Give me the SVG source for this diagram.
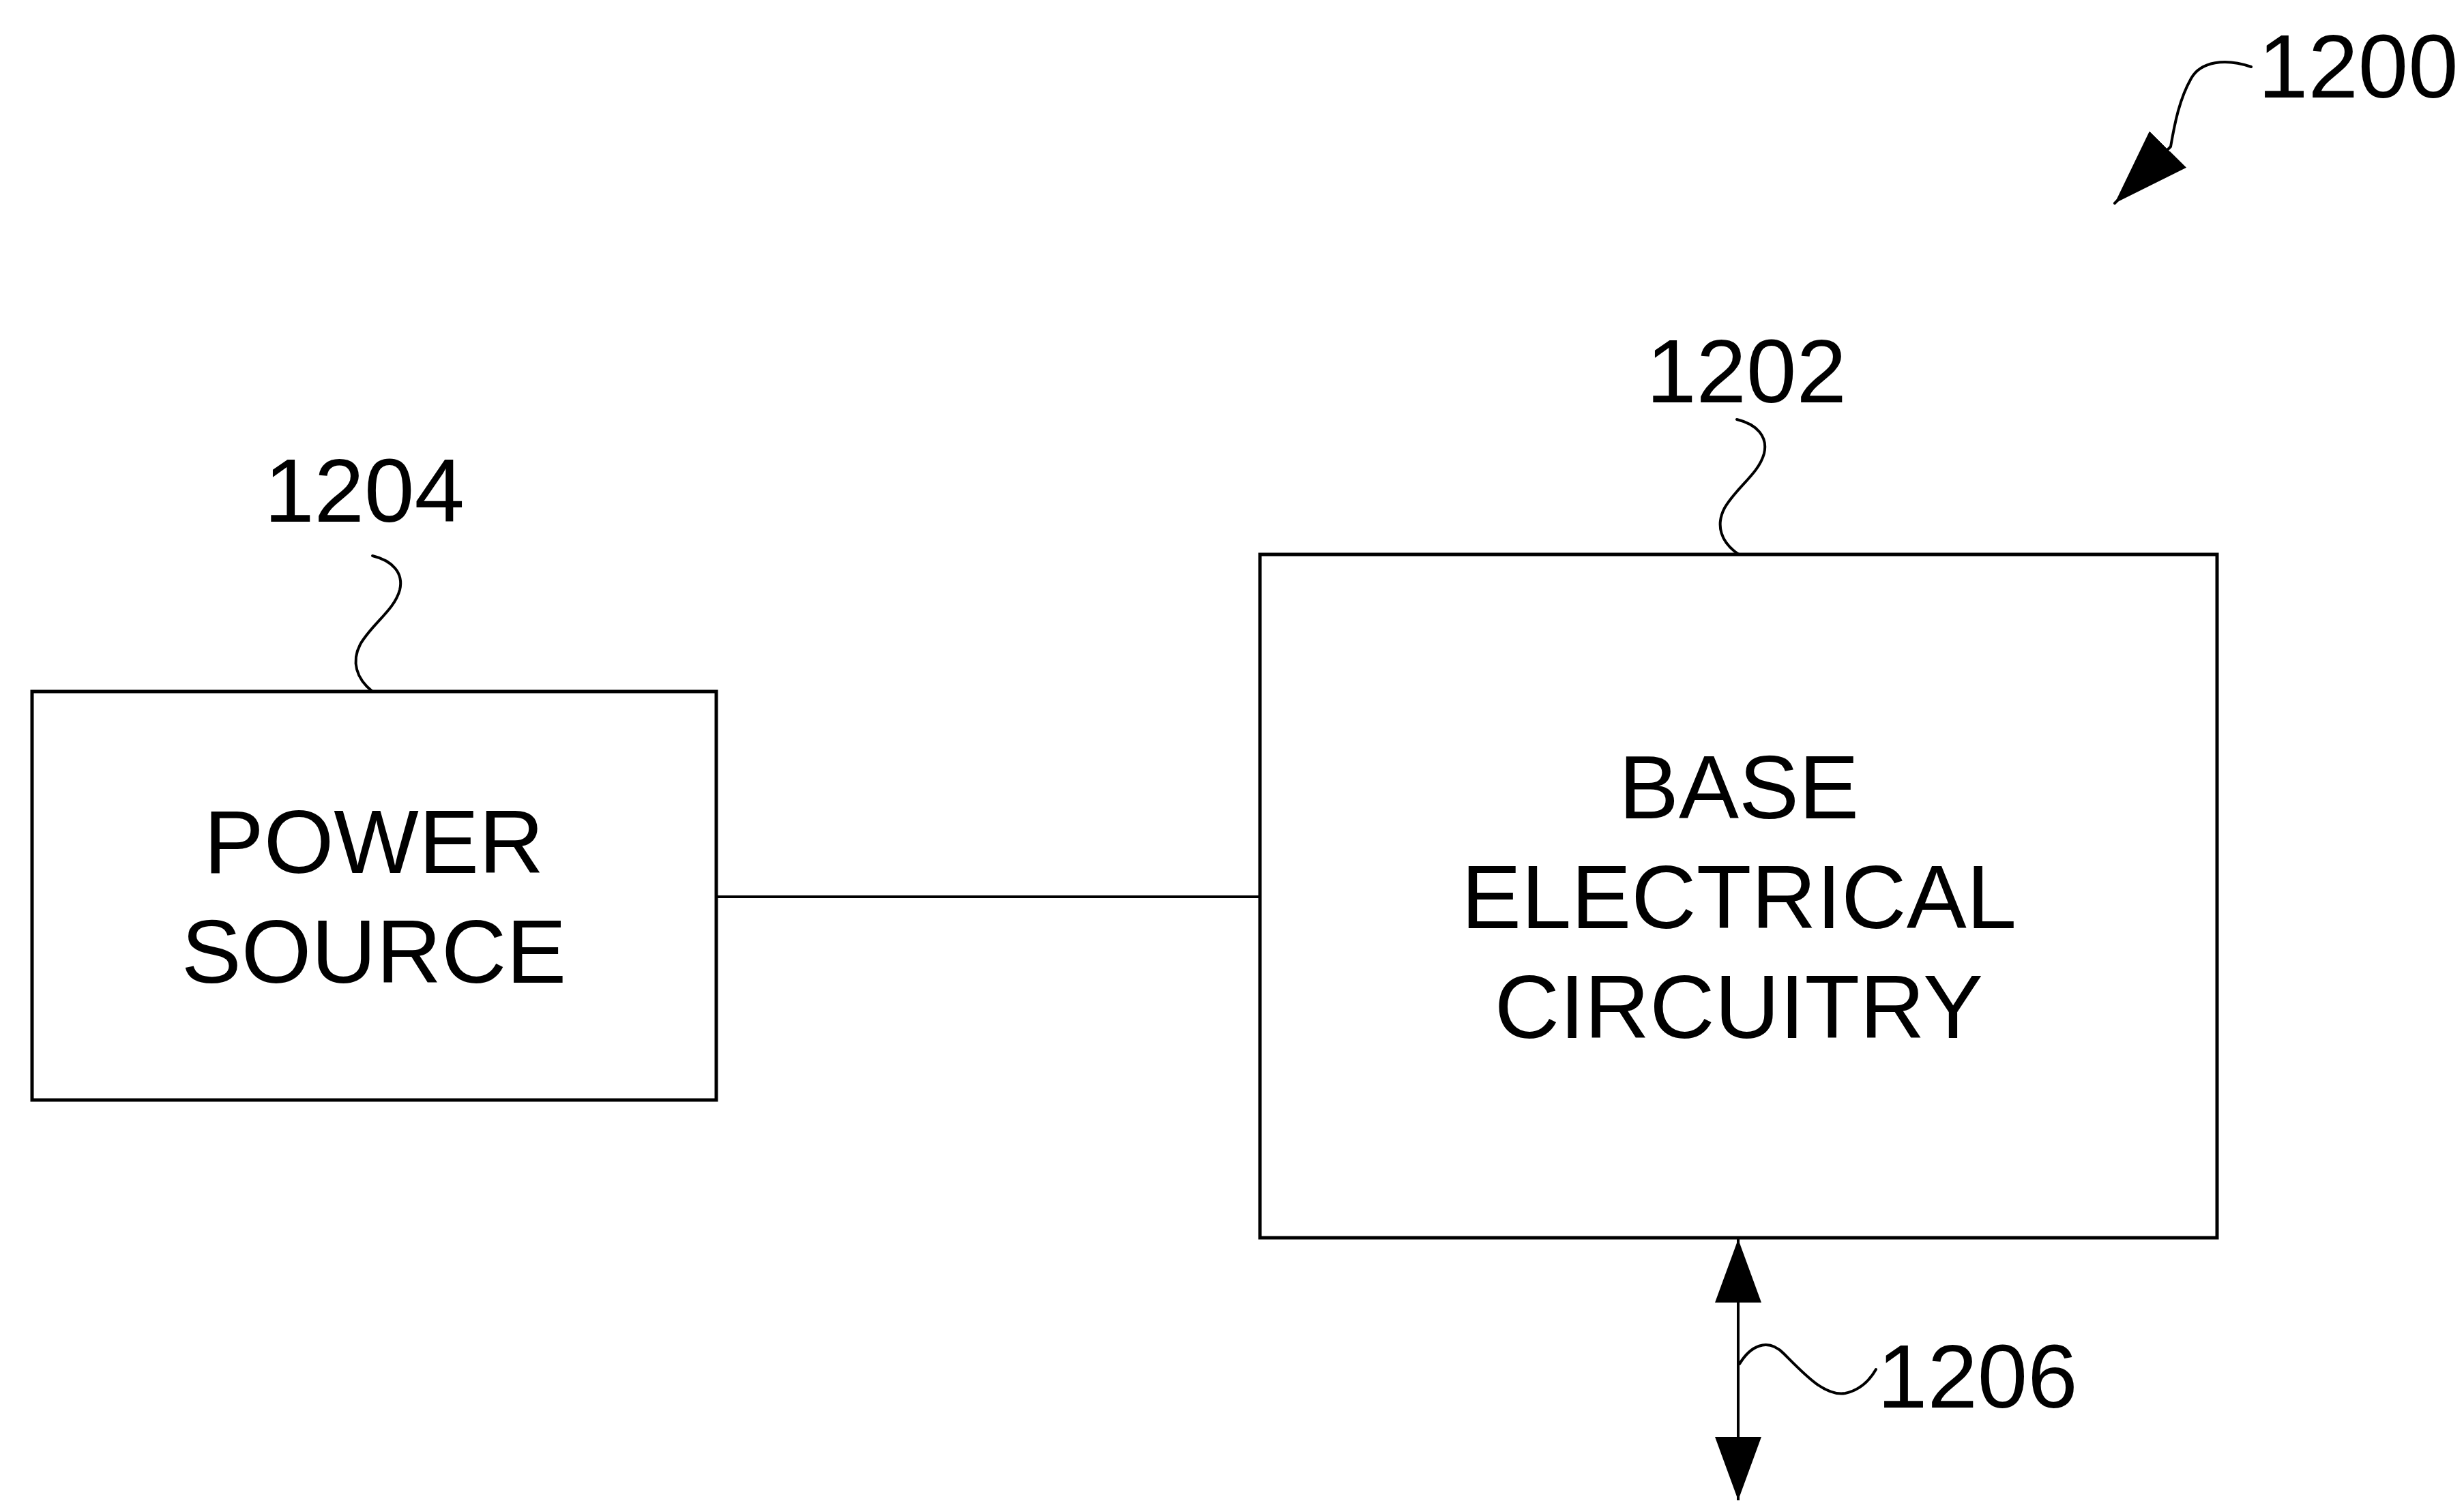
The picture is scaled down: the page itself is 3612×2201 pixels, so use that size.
<svg xmlns="http://www.w3.org/2000/svg" width="3612" height="2201" viewBox="0 0 3612 2201">
<style>
.box{fill:none;stroke:#000;stroke-width:5}
.ln{fill:none;stroke:#000;stroke-width:4}
.lead{fill:none;stroke:#000;stroke-width:4;stroke-linecap:round}
.t{font-family:"Liberation Sans",Arial,sans-serif;font-size:132px;fill:#000}
.c{text-anchor:middle}
</style>
<defs>
<marker id="ah" markerUnits="userSpaceOnUse" markerWidth="94" markerHeight="68" refX="93" refY="34" orient="auto-start-reverse" viewBox="0 0 94 68">
<path d="M0,0 L93,34 L0,68 z" fill="#000"/>
</marker>
<marker id="ah2" markerUnits="userSpaceOnUse" markerWidth="112" markerHeight="76" refX="111" refY="38" orient="auto" viewBox="0 0 112 76">
<path d="M0,0 L111,38 L0,76 z" fill="#000"/>
</marker>
</defs>
<rect width="3612" height="2201" fill="#fff"/>
<g id="power-source">
<rect class="box" x="47" y="1014" width="1003" height="599"/>
<text class="t c" x="548" y="1280">POWER</text>
<text class="t c" x="548" y="1441">SOURCE</text>
</g>
<g id="base-electrical-circuitry">
<rect class="box" x="1847" y="813" width="1403" height="1002"/>
<text class="t c" x="2549" y="1200">BASE</text>
<text class="t c" x="2549" y="1361">ELECTRICAL</text>
<text class="t c" x="2549" y="1522">CIRCUITRY</text>
</g>
<g id="labels">
<text id="label-1200" class="t" x="3310" y="143">1200</text>
<text id="label-1202" class="t c" x="2560" y="590">1202</text>
<text id="label-1204" class="t c" x="534" y="765">1204</text>
<text id="label-1206" class="t" x="2752" y="2064">1206</text>
</g>
<g id="connectors">
<line class="ln" x1="1050" y1="1315" x2="1847" y2="1315"/>
<line class="ln" x1="2548" y1="1817" x2="2548" y2="2200" marker-start="url(#ah)" marker-end="url(#ah)"/>
<path class="lead" d="M546,815 C575,822 592,840 586,865 C578,895 545,915 528,945 C515,970 522,995 546,1014"/>
<path class="lead" d="M2546,615 C2575,622 2592,640 2586,665 C2578,695 2545,715 2528,745 C2515,770 2522,795 2549,813"/>
<path class="lead" d="M2550,2000 C2565,1975 2590,1960 2615,1985 C2645,2015 2675,2048 2705,2043 C2728,2038 2742,2022 2750,2008"/>
<path class="lead" d="M3300,98 C3262,85 3226,90 3212,115 C3195,145 3188,180 3182,215 L3100,298" marker-end="url(#ah2)"/>
</g>
</svg>
